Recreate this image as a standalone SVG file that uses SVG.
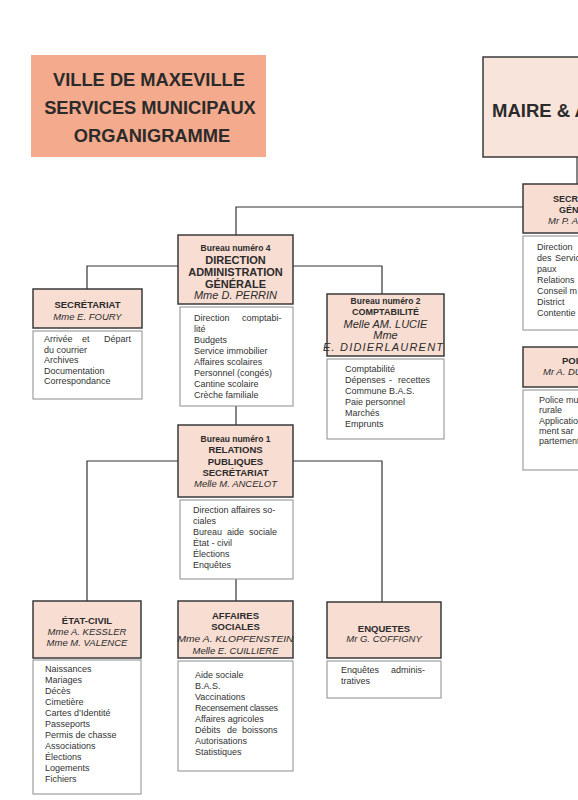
<svg xmlns="http://www.w3.org/2000/svg" width="578" height="800" viewBox="0 0 578 800">
<style>
text{font-family:"Liberation Sans",Arial,sans-serif;fill:#2b2b2b}
.hd{fill:#f8ddd2;stroke:#3a3a3a;stroke-width:1.5}
.bd{fill:#ffffff;stroke:#8c8c8c;stroke-width:1}
.ttl{fill:#f4aa8c;stroke:none}
.c{text-anchor:middle}
.h{font-weight:bold}
.n{font-style:italic}
.b{font-size:9px;fill:#333}
.sm{font-size:8.5px;font-weight:bold}
#connectors path{fill:none;stroke:#333;stroke-width:1.2}
</style>
<rect width="578" height="800" fill="#ffffff"/>

<g id="connectors">
<path d="M577 157V184"/>
<path d="M523 207H236V235"/>
<path d="M178 266H87V289"/>
<path d="M293 266H382V294"/>
<path d="M236 406V425"/>
<path d="M178 461H87V601"/>
<path d="M293 461H382V602"/>
<path d="M236 579V601"/>
</g>

<g id="title">
<rect class="ttl" x="31" y="55" width="235" height="102"/>
<text class="c h" x="149" y="86" font-size="18.3">VILLE DE MAXEVILLE</text>
<text class="c h" x="150" y="114" font-size="18.3">SERVICES MUNICIPAUX</text>
<text class="c h" x="152" y="142" font-size="18.3">ORGANIGRAMME</text>
</g>

<g id="maire">
<rect class="hd" x="483" y="57" width="100" height="100" fill-opacity="0.8"/>
<text class="h" x="492" y="117" font-size="18.5">MAIRE &amp; A</text>
</g>

<g id="secretariat-general">
<rect class="hd" x="523" y="184" width="60" height="49"/>
<text class="h" x="553" y="202" font-size="9">SECRÉ</text>
<text class="h" x="559" y="213" font-size="9">GÉN</text>
<text class="n" x="548" y="224" font-size="9.5">Mr P. A</text>
<rect class="bd" x="523" y="236" width="60" height="94"/>
<text class="b" x="537" y="250">Direction</text>
<text class="b" x="537" y="261">des<tspan x="555">Servic</tspan></text>
<text class="b" x="537" y="272">paux</text>
<text class="b" x="537" y="283">Relations</text>
<text class="b" x="537" y="294">Conseil m</text>
<text class="b" x="537" y="305">District</text>
<text class="b" x="537" y="316">Contentie</text>
</g>

<g id="police">
<rect class="hd" x="523" y="347" width="60" height="40"/>
<text class="h" x="562" y="364" font-size="9.5">POL</text>
<text class="n" x="543" y="375" font-size="9.5">Mr A. DU</text>
<rect class="bd" x="523" y="390" width="60" height="80"/>
<text class="b" x="539" y="403">Police mu</text>
<text class="b" x="539" y="413">rurale</text>
<text class="b" x="539" y="424">Applicatio</text>
<text class="b" x="539" y="434">ment<tspan x="561">sar</tspan></text>
<text class="b" x="539" y="444">partement</text>
</g>

<g id="secretariat">
<rect class="hd" x="33" y="289" width="109" height="39"/>
<text class="c h" x="87.5" y="308" font-size="9.5">SECRÉTARIAT</text>
<text class="c n" x="87.5" y="320" font-size="9.5">Mme E. FOURY</text>
<rect class="bd" x="33" y="331" width="109" height="68"/>
<text class="b" x="44" y="342">Arrivée<tspan x="82">et</tspan><tspan x="104">Départ</tspan></text>
<text class="b" x="44" y="353">du courrier</text>
<text class="b" x="44" y="363">Archives</text>
<text class="b" x="44" y="374">Documentation</text>
<text class="b" x="44" y="384">Correspondance</text>
</g>

<g id="bureau4">
<rect class="hd" x="178" y="235" width="115" height="69"/>
<text class="c sm" x="235.5" y="251">Bureau numéro 4</text>
<text class="c h" x="235.5" y="264" font-size="11">DIRECTION</text>
<text class="c h" x="235.5" y="276" font-size="11">ADMINISTRATION</text>
<text class="c h" x="235.5" y="287.5" font-size="11">GÉNÉRALE</text>
<text class="c n" x="235.5" y="299" font-size="11">Mme D. PERRIN</text>
<rect class="bd" x="180" y="307" width="113" height="99"/>
<text class="b" x="194" y="321">Direction<tspan x="242">comptabi-</tspan></text>
<text class="b" x="194" y="332">lité</text>
<text class="b" x="194" y="343">Budgets</text>
<text class="b" x="194" y="354">Service immobilier</text>
<text class="b" x="194" y="365">Affaires scolaires</text>
<text class="b" x="194" y="376">Personnel (congés)</text>
<text class="b" x="194" y="387">Cantine scolaire</text>
<text class="b" x="194" y="398">Crèche familiale</text>
</g>

<g id="bureau2">
<rect class="hd" x="327" y="294" width="117" height="62"/>
<text class="c sm" x="385.5" y="303.5">Bureau numéro 2</text>
<text class="c h" x="385.5" y="315" font-size="9">COMPTABILITÉ</text>
<text class="c n" x="385.5" y="328" font-size="11">Melle AM. LUCIE</text>
<text class="c n" x="385.5" y="339" font-size="11">Mme</text>
<text class="c n" x="383" y="350.5" font-size="11" textLength="120" lengthAdjust="spacing">E. DIDIERLAURENT</text>
<rect class="bd" x="327" y="359" width="117" height="80"/>
<text class="b" x="345" y="372">Comptabilité</text>
<text class="b" x="345" y="383">Dépenses<tspan x="389">-</tspan><tspan x="398">recettes</tspan></text>
<text class="b" x="345" y="394">Commune B.A.S.</text>
<text class="b" x="345" y="405">Paie personnel</text>
<text class="b" x="345" y="416">Marchés</text>
<text class="b" x="345" y="427">Emprunts</text>
</g>

<g id="bureau1">
<rect class="hd" x="178" y="425" width="115" height="72"/>
<text class="c sm" x="235.5" y="442">Bureau numéro 1</text>
<text class="c h" x="235.5" y="453" font-size="9.5">RELATIONS</text>
<text class="c h" x="235.5" y="464.5" font-size="9.5">PUBLIQUES</text>
<text class="c h" x="235.5" y="476" font-size="9.5">SECRÉTARIAT</text>
<text class="c n" x="235.5" y="487" font-size="9.5">Melle M. ANCELOT</text>
<rect class="bd" x="180" y="500" width="113" height="79"/>
<text class="b" x="193" y="513">Direction affaires so-</text>
<text class="b" x="193" y="524">ciales</text>
<text class="b" x="193" y="535">Bureau<tspan x="227">aide</tspan><tspan x="249">sociale</tspan></text>
<text class="b" x="193" y="546">État - civil</text>
<text class="b" x="193" y="557">Élections</text>
<text class="b" x="193" y="568">Enquêtes</text>
</g>

<g id="etat-civil">
<rect class="hd" x="33" y="601" width="108" height="57"/>
<text class="c h" x="87" y="624" font-size="9.5">ÉTAT-CIVIL</text>
<text class="c n" x="87" y="635" font-size="9.5">Mme A. KESSLER</text>
<text class="c n" x="87" y="646" font-size="9.5">Mme M. VALENCE</text>
<rect class="bd" x="33" y="660" width="108" height="134"/>
<text class="b" x="45" y="672">Naissances</text>
<text class="b" x="45" y="683">Mariages</text>
<text class="b" x="45" y="694">Décès</text>
<text class="b" x="45" y="705">Cimetière</text>
<text class="b" x="45" y="716">Cartes d’Identité</text>
<text class="b" x="45" y="727">Passeports</text>
<text class="b" x="45" y="738">Permis de chasse</text>
<text class="b" x="45" y="749">Associations</text>
<text class="b" x="45" y="760">Élections</text>
<text class="b" x="45" y="771">Logements</text>
<text class="b" x="45" y="782">Fichiers</text>
</g>

<g id="affaires-sociales">
<rect class="hd" x="178" y="601" width="115" height="57"/>
<text class="c h" x="235.5" y="619" font-size="9.5">AFFAIRES</text>
<text class="c h" x="235.5" y="630" font-size="9.5">SOCIALES</text>
<text class="c n" x="235.5" y="641.5" font-size="9.5" textLength="116" lengthAdjust="spacingAndGlyphs">Mme A. KLOPFENSTEIN</text>
<text class="c n" x="235.5" y="653.5" font-size="9.5">Melle E. CUILLIERE</text>
<rect class="bd" x="178" y="661" width="115" height="110"/>
<text class="b" x="195" y="678">Aide sociale</text>
<text class="b" x="195" y="689">B.A.S.</text>
<text class="b" x="195" y="700">Vaccinations</text>
<text class="b" x="195" y="711" textLength="83" lengthAdjust="spacing">Recensement classes</text>
<text class="b" x="195" y="722">Affaires agricoles</text>
<text class="b" x="195" y="733">Débits<tspan x="227">de</tspan><tspan x="242">boissons</tspan></text>
<text class="b" x="195" y="744">Autorisations</text>
<text class="b" x="195" y="755">Statistiques</text>
</g>

<g id="enquetes">
<rect class="hd" x="327" y="602" width="114" height="56"/>
<text class="c h" x="384" y="632" font-size="9.5">ENQUETES</text>
<text class="c n" x="384" y="642" font-size="9.5">Mr G. COFFIGNY</text>
<rect class="bd" x="327" y="661" width="114" height="37"/>
<text class="b" x="341" y="673">Enquêtes<tspan x="391">adminis-</tspan></text>
<text class="b" x="341" y="684">tratives</text>
</g>
</svg>
